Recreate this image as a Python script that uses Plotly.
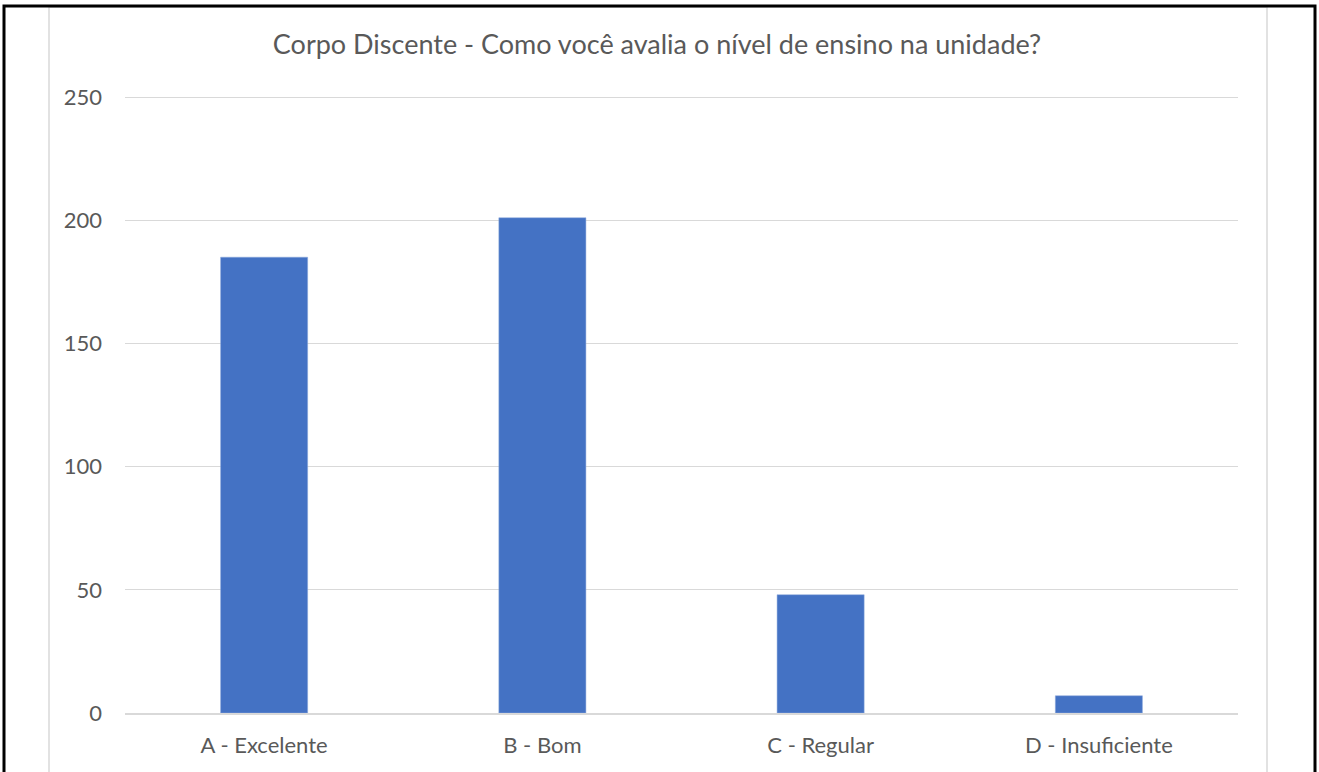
import plotly.graph_objects as go

categories = ["A - Excelente", "B - Bom", "C - Regular", "D - Insuficiente"]
respostas = [185, 201, 48, 7]
y_ticks = [0, 50, 100, 150, 200, 250]

W, H = 1319, 772
y_max = 252  # a bit above 250 so the top gridline is still drawn
scale = 616 / 250  # pixels per unit
left, right, bottom = 125, 1238, 713
top = round(bottom - y_max * scale)
pw, ph = right - left, bottom - top


def px(x):
    return (x - left) / pw


def py(y):
    return (bottom - y) / ph


fig = go.Figure(go.Bar(
    x=categories, y=respostas,
    marker=dict(color="#4472C4", line=dict(color="#8FAADC", width=0.5)),
    width=0.313,
))

fig.update_layout(
    width=W, height=H,
    margin=dict(l=left, r=W - right, t=top, b=H - bottom),
    paper_bgcolor="white", plot_bgcolor="white",
    font=dict(family="Lato, Carlito, Liberation Sans, sans-serif", color="#595959", size=22),
    title=dict(
        text="Corpo Discente - Como você avalia o nível de ensino na unidade?",
        x=px(657), xref="paper", xanchor="center",
        y=1 - 45 / H, yref="container", yanchor="middle",
        font=dict(size=27, color="#595959"),
    ),
    showlegend=False,
    shapes=[
        dict(type="rect", xref="paper", yref="paper",
             x0=px(49), x1=px(1267), y0=py(800), y1=py(7),
             line=dict(color="#D9D9D9", width=1.5), fillcolor="rgba(0,0,0,0)", layer="below"),
        dict(type="rect", xref="paper", yref="paper",
             x0=px(4), x1=px(1315), y0=py(800), y1=py(6),
             line=dict(color="black", width=3), fillcolor="rgba(0,0,0,0)"),
    ],
)

fig.update_yaxes(
    range=[0, (bottom - top) / scale], tickvals=y_ticks, showgrid=True,
    gridcolor="#D9D9D9", gridwidth=1,
    zeroline=False, showline=False, ticks="", ticklabelstandoff=22,
    tickfont=dict(size=22, color="#595959"),
)
fig.update_xaxes(
    showline=True, linecolor="#D9D9D9", linewidth=1.5, ticks="",
    tickfont=dict(size=22, color="#595959"), ticklabelstandoff=12,
)

# drop the default page margin so the figure sits at the window corner
fig.write_html("out.html", config={"displayModeBar": False},
               post_script="document.body.style.margin='0';")
